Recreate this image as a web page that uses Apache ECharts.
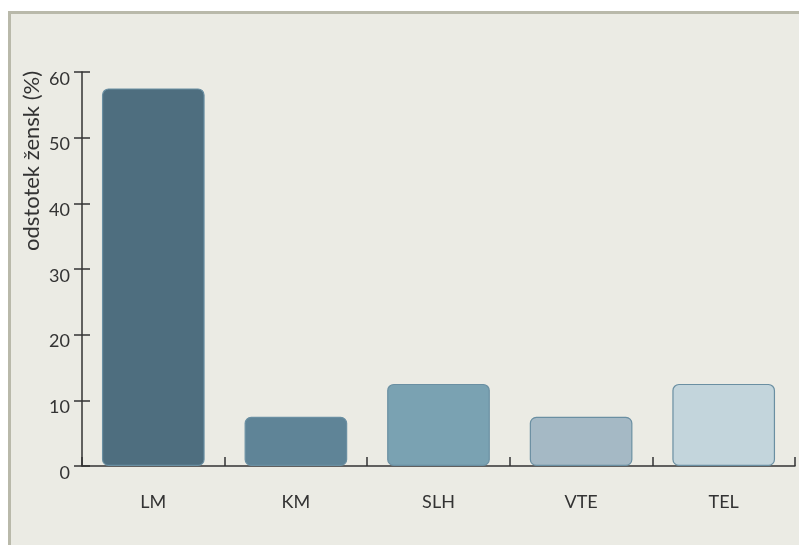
<!DOCTYPE html>
<html><head><meta charset="utf-8">
<script src="https://cdn.jsdelivr.net/npm/echarts@6/dist/echarts.min.js"></script>
<style>
html,body{margin:0;padding:0;background:#fff;}
#frame{position:absolute;left:8px;top:11px;width:791px;height:534px;background:#ebebe4;border-left:3px solid #b9b9aa;border-top:3px solid #b9b9aa;box-sizing:border-box;}
#c{position:absolute;left:0;top:0;width:799px;height:545px;}
</style></head>
<body><div id="frame"></div><div id="c"></div>
<script>
var categories = ['LM', 'KM', 'SLH', 'VTE', 'TEL'];
var values = [57.5, 7.5, 12.5, 7.5, 12.5];
var barColors = ['#4e6e7f', '#5f8497', '#7aa2b2', '#a5b9c5', '#c3d5dc'];
var yTicks = [0, 10, 20, 30, 40, 50, 60];
var yName = 'odstotek žensk (%)';

var FONT = 'Lato, "Open Sans", sans-serif';
var chart = echarts.init(document.getElementById('c'), null, {renderer: 'canvas'});
chart.setOption({
  backgroundColor: 'transparent',
  animation: false,
  grid: {left: 82, right: 4, top: 72, bottom: 79, containLabel: false},
  xAxis: {
    type: 'category',
    data: categories,
    axisLine: {show: true, lineStyle: {color: '#333', width: 1.5}},
    axisTick: {show: true, inside: true, length: 9, alignWithLabel: false, lineStyle: {color: '#333', width: 1.5}},
    axisLabel: {color: '#333', fontFamily: FONT, fontSize: 18, margin: 27}
  },
  yAxis: [{
    type: 'value',
    min: yTicks[0], max: yTicks[yTicks.length - 1], interval: 10,
    axisLine: {show: true, lineStyle: {color: '#333', width: 1.5}},
    axisTick: {show: true, inside: false, length: 8, lineStyle: {color: '#333', width: 1.5}},
    axisLabel: {color: '#333', fontFamily: FONT, fontSize: 18, margin: 12, verticalAlign: 'top', lineHeight: 14},
    splitLine: {show: false}
  }, {
    type: 'value', position: 'left',
    min: yTicks[0], max: yTicks[yTicks.length - 1], interval: 10,
    axisLine: {show: false},
    axisTick: {show: true, inside: true, length: 8, lineStyle: {color: '#333', width: 1.5}},
    axisLabel: {show: false},
    splitLine: {show: false}
  }],
  graphic: [{
    type: 'text', x: 32, y: 161, rotation: Math.PI / 2,
    style: {text: yName, fill: '#333', font: '22px ' + FONT, textAlign: 'center', textVerticalAlign: 'middle'}
  }],
  series: [{
    type: 'bar',
    yAxisIndex: 0,
    barWidth: '72%',
    data: values.map(function (v, i) {
      return {value: v, itemStyle: {color: barColors[i]}};
    }),
    itemStyle: {borderRadius: 6, borderColor: '#6a8fa2', borderWidth: 1.2}
  }]
});
</script></body></html>
